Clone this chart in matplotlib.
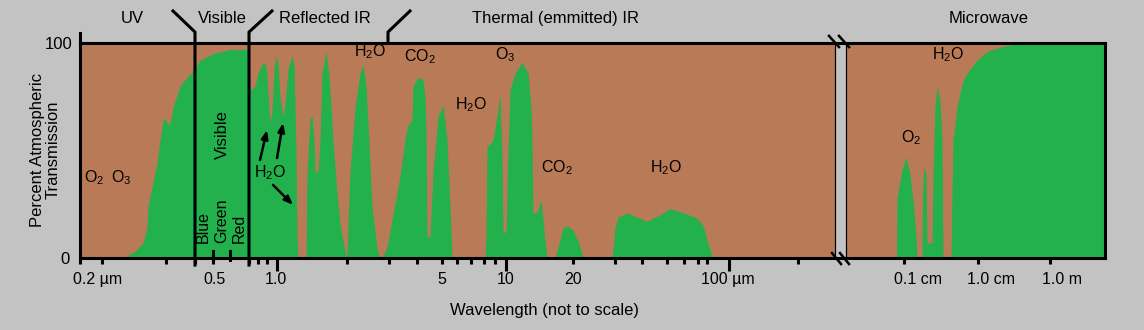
import matplotlib
matplotlib.use("Agg")
import matplotlib.pyplot as plt

plt.rcParams["font.family"] = ["Liberation Sans", "DejaVu Sans"]
plt.rcParams["mathtext.default"] = "regular"

# Position along the (not-to-scale) wavelength axis and atmospheric transmission in percent
band_position = [
    80, 126, 128, 135, 143, 147, 148, 152, 157, 160, 163, 165, 167, 170, 173, 180, 187, 193,
    195, 200, 213, 230, 247, 249,
    250, 252, 255, 258, 262, 265, 267, 269, 270, 272, 274, 276, 278, 280, 283, 285, 288, 292,
    294, 296, 297, 298, 306, 307, 310, 312, 314, 315, 318, 320, 322, 326, 329, 333, 337, 340,
    345, 347, 348, 350, 355, 360, 363, 366, 368, 372, 377, 380, 383, 387, 393, 400, 405, 408,
    412, 413, 418, 423, 425, 426, 427, 430, 433, 438, 443, 447, 450, 452, 485, 486, 487, 490,
    493, 497, 500, 501, 502, 503, 506, 508, 510, 515, 522, 528, 531, 532, 533, 537, 541, 543,
    545, 547, 555, 558, 563, 567, 573, 578, 580, 583, 612, 613, 615, 618, 627, 637, 647, 655,
    660, 670, 683, 695, 702, 705, 707, 713, 896, 896.5, 897, 902, 906, 910, 913, 916, 917, 922,
    922.5, 924, 926, 927, 932, 933, 935, 937, 940, 942, 943, 951, 952, 953, 957, 962, 967, 977,
    987, 1000, 1010, 1020, 1105,
]
transmission = [
    0, 0, 1.4, 3, 7, 14, 24, 33, 44, 55, 64, 65, 63, 62, 70, 80, 84, 87,
    88, 92, 95, 97, 97, 97,
    80, 78, 80, 86, 90, 91, 85, 70, 63, 68, 88, 94, 90, 75, 66, 72, 88, 94,
    90, 50, 10, 0, 0, 40, 65, 66, 55, 40, 40, 55, 86, 96, 85, 55, 30, 16,
    3, 0, 16, 40, 70, 86, 90, 80, 63, 24, 4, 0, 1, 5, 20, 38, 55, 62,
    64, 80, 84, 83, 75, 60, 10, 10, 40, 66, 71, 55, 24, 0, 0, 10, 52, 53,
    55, 66, 76, 60, 50, 12, 12, 50, 78, 86, 91, 86, 70, 55, 21, 21, 27, 18,
    8, 0, 0, 5, 14, 15, 13, 8, 5, 0, 0, 4, 14, 19, 21, 19, 17, 19,
    20, 23, 21, 19, 16, 12, 8, 0, 0, 2, 28, 41, 47, 39, 27, 10, 0, 0,
    30, 43, 38, 7, 7, 40, 70, 80, 73, 55, 0, 0, 30, 55, 70, 81, 86, 92,
    96, 98, 99, 100, 100,
]

# Wavelength ticks
tick_positions = [80, 102, 166, 195, 213, 249, 258, 267, 347, 389, 417, 442, 457, 471, 484,
                  495, 573, 615, 642, 667, 684, 698, 707, 798, 904, 978, 1050]
decade_ticks = [277, 506, 729]
tick_label_positions = [98, 214, 276, 442, 506, 573, 728, 918, 991, 1062]
tick_labels = ["0.2 µm", "0.5", "1.0", "5", "10", "20", "100 µm", "0.1 cm", "1.0 cm", "1.0 m"]

# Spectral regions along the top
region_names = ["UV", "Visible", "Reflected IR", "Thermal (emmitted) IR", "Microwave"]
region_centers = [132, 222, 325, 555, 989]

# Absorbing gases
absorber_labels = ["O$_2$", "O$_3$", "H$_2$O", "H$_2$O", "CO$_2$", "O$_3$", "H$_2$O",
                   "CO$_2$", "H$_2$O", "O$_2$", "H$_2$O"]
absorber_x = [94, 121, 270, 370, 420, 505, 471, 557, 666, 911, 948]
absorber_y = [37.2, 37.2, 39.5, 95.8, 93.5, 94.4, 71.2, 41.9, 41.9, 55.8, 94.4]

BG = "#c3c3c3"
BROWN = "#b97a57"
GREEN = "#22b14c"
LW = 2.2

fig = plt.figure(figsize=(11.44, 3.30), dpi=100, facecolor=BG)
ax = fig.add_axes([80 / 1144, 72 / 330, 1025 / 1144, 215 / 330])
ax.set_facecolor(BROWN)
ax.set_xlim(80, 1105)
ax.set_ylim(0, 100)

ax.fill_between(band_position, 0, transmission, color=GREEN, linewidth=0, zorder=1)

for s in ax.spines.values():
    s.set_linewidth(LW)
    s.set_color("black")
    s.set_zorder(5)

# axis break
ax.axvspan(835, 846, facecolor=BG, edgecolor="black", linewidth=0.9, zorder=3)
for x0 in (829, 839):
    ax.plot([x0, x0 + 10], [103.3, 98.1], color="black", lw=1.8, clip_on=False, zorder=6)
for x0 in (832, 840):
    ax.plot([x0, x0 + 9], [2.3, -2.8], color="black", lw=1.8, clip_on=False, zorder=6)

# ticks
ax.set_xticks(tick_positions)
ax.set_xticks(decade_ticks, minor=True)
ax.tick_params(axis="x", which="major", direction="out", length=4.5, width=LW, labelbottom=False)
ax.tick_params(axis="x", which="minor", direction="out", length=9, width=LW, labelbottom=False)
ax.set_yticks([])
for lbl, xp in zip(tick_labels, tick_label_positions):
    ax.text(xp, -10.2, lbl, ha="center", va="center", fontsize=11.5, clip_on=False)
for xp in (213, 230):
    ax.plot([xp, xp], [3.3, -0.9], color="black", lw=LW, clip_on=False, zorder=6)

ax.text(545, -24.2, "Wavelength (not to scale)", ha="center", va="center", fontsize=12)
ax.text(72, 99.1, "100", ha="right", va="center", fontsize=12, clip_on=False)
ax.text(70, -0.5, "0", ha="right", va="center", fontsize=12, clip_on=False)
ax.text(45, 50.2, "Percent Atmospheric\nTransmission", rotation=90, ha="center",
        va="center", fontsize=12, linespacing=1.05)

# left axis extension
ax.plot([80, 80], [100, 104.7], color="black", lw=LW, clip_on=False, zorder=6)

# region dividers
ax.plot([173, 195, 195], [114.9, 105.1, -3.3], color="black", lw=LW, clip_on=False, zorder=6)
ax.plot([272, 249, 249], [114.9, 105.1, -3.3], color="black", lw=LW, clip_on=False, zorder=6)
ax.plot([410, 388, 388], [114.9, 105.1, 100], color="black", lw=LW, clip_on=False, zorder=6)

for name, xc in zip(region_names, region_centers):
    ax.text(xc, 111.6, name, ha="center", va="center", fontsize=12)

# visible band
ax.text(222, 57.2, "Visible", rotation=90, ha="center", va="center", fontsize=12)
for name, xc in zip(["Blue", "Green", "Red"], [203, 222, 239]):
    ax.text(xc, 7.0, name, rotation=90, ha="center", va="bottom", fontsize=11.5)

for lbl, xp, yp in zip(absorber_labels, absorber_x, absorber_y):
    ax.text(xp, yp, lbl, ha="center", va="center", fontsize=11.5, zorder=7)

arrow = dict(arrowstyle="-|>,head_length=0.5,head_width=0.2", color="black", lw=1.8,
             shrinkA=0, shrinkB=0)
ax.annotate("", xy=(267, 59.5), xytext=(260, 45.6), arrowprops=arrow)
ax.annotate("", xy=(283, 62.8), xytext=(277, 46.5), arrowprops=arrow)
ax.annotate("", xy=(293, 24.7), xytext=(273, 34.0), arrowprops=arrow)

fig.savefig("out.png", dpi=100, facecolor=BG)
